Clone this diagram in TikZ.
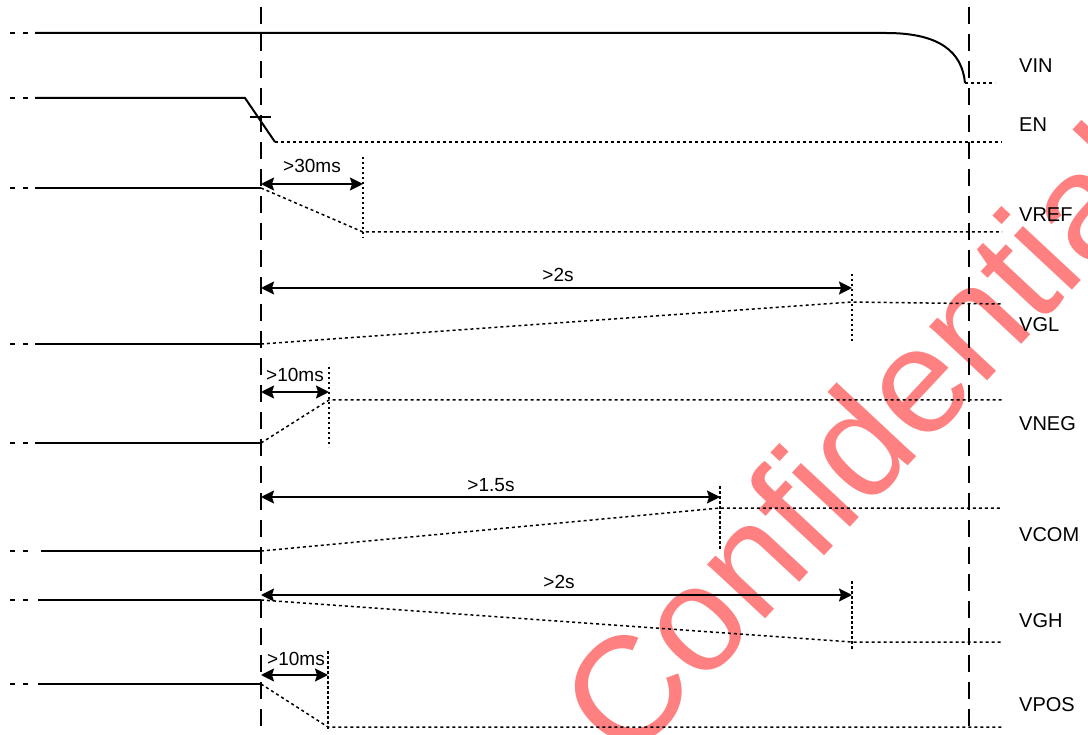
\documentclass[tikz,border=0pt]{standalone}
\usepackage{fontspec}
\setmainfont{Liberation Sans}
\usetikzlibrary{arrows.meta}
\definecolor{wmred}{RGB}{255,128,128}
\begin{document}
\begin{tikzpicture}[x=1pt,y=-1pt,
  sig/.style={line width=2pt},
  dotl/.style={line width=1.5pt, dash pattern=on 3pt off 3pt},
  lead/.style={line width=2pt, dash pattern=on 5pt off 8pt},
  guide/.style={line width=2pt, dash pattern=on 17pt off 10pt},
  marker/.style={line width=1.3pt, dash pattern=on 2.5pt off 2.5pt},
  meas/.style={line width=2pt, {Stealth[length=13pt,width=13pt,inset=2pt]}-{Stealth[length=13pt,width=13pt,inset=2pt]}},
  lbl/.style={font=\fontsize{20}{24}\selectfont, anchor=base west, inner sep=0pt},
  mlbl/.style={font=\fontsize{19}{23}\selectfont, anchor=base, inner sep=0pt},
]
\useasboundingbox (0,0) rectangle (1088,735);

% watermark
\node[font=\fontsize{150}{170}\selectfont, text=wmred, rotate=47, anchor=base, inner sep=0pt] (wm) at (898,477) {Confidential};

% row coordinates
\foreach \r/\y/\s in {vin/33/35, en/98/35, vref/188/35, vgl/344/35, vneg/443/35, vcom/551/41, vgh/600/38, vpos/684/38} {
  \coordinate (\r-a) at (10,\y);
  \coordinate (\r-b) at (28,\y);
  \coordinate (\r-s) at (\s,\y);
  \coordinate (\r-t) at (261,\y);
}
\foreach \r in {vin,en,vref,vgl,vneg,vcom,vgh,vpos} {
  \draw[lead] (\r-a) -- (\r-b);
}

% guides
\coordinate (g1t) at (261,7);
\coordinate (g1b) at (261,740);
\coordinate (g2t) at (969,7);
\coordinate (g2b) at (969,740);
\draw[guide] (g1t) -- (g1b);
\draw[guide] (g2t) -- (g2b);

% VIN
\coordinate (vin-k) at (886,33);
\coordinate (vin-e) at (965,83);
\coordinate (vin-f) at (995,83);
\draw[sig] (vin-s) -- (vin-k) .. controls (940,33) and (962,52) .. (vin-e);
\draw[dotl] (vin-e) -- (vin-f);

% EN
\coordinate (en-k) at (245,98);
\coordinate (en-e) at (275,142);
\coordinate (en-f) at (1002,142);
\coordinate (en-x1) at (250,117);
\coordinate (en-x2) at (271,117);
\draw[sig] (en-s) -- (en-k) -- (en-e);
\draw[sig] (en-x1) -- (en-x2);
\draw[dotl] (en-e) -- (en-f);

% VREF
\coordinate (vref-e) at (363,232);
\coordinate (vref-f) at (1002,232);
\coordinate (vref-m1) at (363,157);
\coordinate (vref-m2) at (363,238);
\coordinate (vref-p1) at (261,184);
\coordinate (vref-p2) at (363,184);
\draw[sig] (vref-s) -- (vref-t);
\draw[dotl] (vref-t) -- (vref-e) -- (vref-f);
\draw[marker] (vref-m1) -- (vref-m2);
\draw[meas] (vref-p1) -- (vref-p2);
\node[mlbl] (vref-l) at (312,173) {>30ms};

% VGL
\coordinate (vgl-e) at (852,302);
\coordinate (vgl-f) at (1002,304);
\coordinate (vgl-m1) at (852,274);
\coordinate (vgl-m2) at (852,343);
\coordinate (vgl-p1) at (261,288);
\coordinate (vgl-p2) at (852,288);
\draw[sig] (vgl-s) -- (vgl-t);
\draw[dotl] (vgl-t) -- (vgl-e) -- (vgl-f);
\draw[marker] (vgl-m1) -- (vgl-m2);
\draw[meas] (vgl-p1) -- (vgl-p2);
\node[mlbl] (vgl-l) at (558,282) {>2s};

% VNEG
\coordinate (vneg-e) at (329,400);
\coordinate (vneg-f) at (1002,400);
\coordinate (vneg-m1) at (329,367);
\coordinate (vneg-m2) at (329,447);
\coordinate (vneg-p1) at (261,392);
\coordinate (vneg-p2) at (329,392);
\draw[sig] (vneg-s) -- (vneg-t);
\draw[dotl] (vneg-t) -- (vneg-e) -- (vneg-f);
\draw[marker] (vneg-m1) -- (vneg-m2);
\draw[meas] (vneg-p1) -- (vneg-p2);
\node[mlbl] (vneg-l) at (295,382) {>10ms};

% VCOM
\coordinate (vcom-e) at (720,508);
\coordinate (vcom-f) at (1002,508);
\coordinate (vcom-m1) at (720,486);
\coordinate (vcom-m2) at (720,550);
\coordinate (vcom-p1) at (261,497);
\coordinate (vcom-p2) at (720,497);
\draw[sig] (vcom-s) -- (vcom-t);
\draw[dotl] (vcom-t) -- (vcom-e) -- (vcom-f);
\draw[marker] (vcom-m1) -- (vcom-m2);
\draw[meas] (vcom-p1) -- (vcom-p2);
\node[mlbl] (vcom-l) at (491,492) {>1.5s};

% VGH
\coordinate (vgh-e) at (852,642);
\coordinate (vgh-f) at (1002,642);
\coordinate (vgh-m1) at (852,581);
\coordinate (vgh-m2) at (852,650);
\coordinate (vgh-p1) at (261,595);
\coordinate (vgh-p2) at (852,595);
\draw[sig] (vgh-s) -- (vgh-t);
\draw[dotl] (vgh-t) -- (vgh-e) -- (vgh-f);
\draw[marker] (vgh-m1) -- (vgh-m2);
\draw[meas] (vgh-p1) -- (vgh-p2);
\node[mlbl] (vgh-l) at (559,588) {>2s};

% VPOS
\coordinate (vpos-e) at (328,727);
\coordinate (vpos-f) at (1002,727);
\coordinate (vpos-m1) at (328,651);
\coordinate (vpos-m2) at (328,731);
\coordinate (vpos-p1) at (261,675);
\coordinate (vpos-p2) at (328,675);
\draw[sig] (vpos-s) -- (vpos-t);
\draw[dotl] (vpos-t) -- (vpos-e) -- (vpos-f);
\draw[marker] (vpos-m1) -- (vpos-m2);
\draw[meas] (vpos-p1) -- (vpos-p2);
\node[mlbl] (vpos-l) at (296,665) {>10ms};

% right labels
\node[lbl] (L-vin) at (1019,73) {VIN};
\node[lbl] (L-en) at (1019,132) {EN};
\node[lbl] (L-vref) at (1019,222) {VREF};
\node[lbl] (L-vgl) at (1019,332) {VGL};
\node[lbl] (L-vneg) at (1019,431) {VNEG};
\node[lbl] (L-vcom) at (1019,541) {VCOM};
\node[lbl] (L-vgh) at (1019,627) {VGH};
\node[lbl] (L-vpos) at (1019,711) {VPOS};
\end{tikzpicture}
\end{document}
